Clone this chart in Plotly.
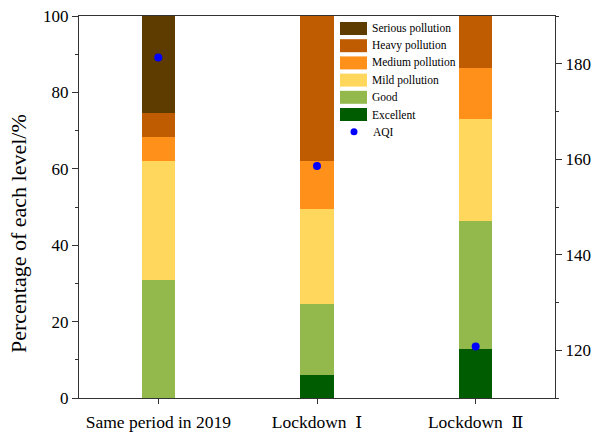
import plotly.graph_objects as go

# Share of days at each air-quality level (%), plus mean AQI for each period
categories = ["Same period in 2019", "Lockdown  Ⅰ", "Lockdown  Ⅱ"]
excellent = [0.0, 5.9, 12.9]
good = [30.9, 18.7, 33.4]
mild = [31.1, 25.0, 26.7]
medium = [6.4, 12.5, 13.4]
heavy = [6.3, 37.9, 13.6]
serious = [25.3, 0.0, 0.0]
aqi = [181.3, 158.6, 120.8]

levels = [
    ("Excellent", excellent, "#005C00"),
    ("Good", good, "#93B94D"),
    ("Mild pollution", mild, "#FFD75C"),
    ("Medium pollution", medium, "#FF9019"),
    ("Heavy pollution", heavy, "#BF5B00"),
    ("Serious pollution", serious, "#5E3C00"),
]

W, H = 595, 435
ML, MR, MT, MB = 79, 40, 16, 37
PW, PH = W - ML - MR, H - MT - MB
FONT = "Liberation Serif"
CAT_FONT = "Liberation Serif, DejaVu Serif"


def px(x):
    return (x - ML) / PW


def py(y):
    return (H - MB - y) / PH


fig = go.Figure()
for name, vals, color in levels:
    fig.add_trace(go.Bar(
        x=categories, y=vals, name=name, width=0.21,
        marker=dict(color=color, line=dict(width=0)),
        showlegend=False,
    ))

fig.add_trace(go.Scatter(
    x=categories, y=aqi, yaxis="y2", mode="markers", name="AQI",
    marker=dict(color="#0000FF", size=8), showlegend=False,
))

# Hand-built legend block
shapes = []
annotations = []
row_y = [28.5, 45.7, 62.9, 80.1, 97.3, 114.5, 131.7]
for (name, _, color), yc in zip(reversed(levels), row_y):
    shapes.append(dict(type="rect", xref="paper", yref="paper",
                       x0=px(340), x1=px(367), y0=py(yc + 6.5), y1=py(yc - 6.5),
                       fillcolor=color, line=dict(width=0), layer="above"))
    annotations.append(dict(text=name, xref="paper", yref="paper",
                            x=px(370), y=py(yc), xanchor="left", yanchor="middle",
                            showarrow=False, font=dict(family=FONT, size=11.5, color="black")))
shapes.append(dict(type="circle", xref="paper", yref="paper",
                   x0=px(350.5), x1=px(357.5), y0=py(row_y[-1] + 3.5), y1=py(row_y[-1] - 3.5),
                   fillcolor="#0000FF", line=dict(width=0), layer="above"))
annotations.append(dict(text="AQI", xref="paper", yref="paper",
                        x=px(371), y=py(row_y[-1]), xanchor="left", yanchor="middle",
                        showarrow=False, font=dict(family=FONT, size=11.5, color="black")))

# Left axis title
annotations.append(dict(text="Percentage of each level/%", xref="paper", yref="paper",
                        x=px(18), y=py(234), textangle=-90, showarrow=False,
                        xanchor="center", yanchor="middle",
                        font=dict(family=FONT, size=22, color="black")))

axis_line = "#333333"
tick_font = dict(family=FONT, size=17, color="black")
fig.update_layout(
    width=W, height=H,
    margin=dict(l=ML, r=MR, t=MT, b=MB, autoexpand=False),
    paper_bgcolor="white", plot_bgcolor="white",
    barmode="stack", bargap=0,
    font=dict(family=FONT, color="black"),
    shapes=shapes, annotations=annotations,
    xaxis=dict(
        type="category", range=[-0.5, 2.5], automargin=False,
        showline=True, linecolor=axis_line, linewidth=1, mirror=True,
        ticks="outside", ticklen=5, tickcolor=axis_line, ticklabelstandoff=3,
        tickfont=dict(family=CAT_FONT, size=17.5, color="black"),
        showgrid=False, zeroline=False,
    ),
    yaxis=dict(
        range=[0, 100], dtick=20, automargin=False,
        showline=True, linecolor=axis_line, linewidth=1,
        ticks="outside", ticklen=6, tickcolor=axis_line,
        minor=dict(dtick=10, ticks="outside", ticklen=3, tickcolor=axis_line, showgrid=False),
        tickfont=tick_font,
        showgrid=False, zeroline=False,
    ),
    yaxis2=dict(
        range=[110, 190], dtick=20, overlaying="y", side="right", automargin=False,
        showline=True, linecolor=axis_line, linewidth=1,
        ticks="outside", ticklen=6, tickcolor=axis_line,
        minor=dict(dtick=10, ticks="outside", ticklen=3, tickcolor=axis_line, showgrid=False),
        tickfont=tick_font,
        showgrid=False, zeroline=False,
    ),
)

fig.write_html("out.html")
